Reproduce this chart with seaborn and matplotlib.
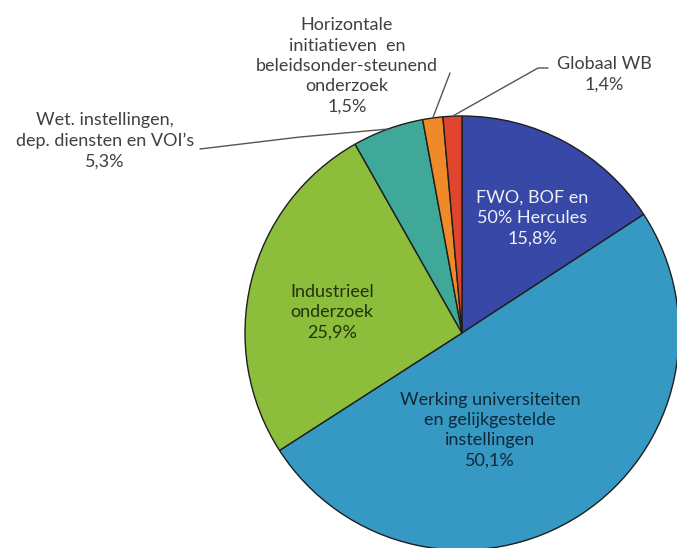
import numpy as np
import matplotlib
matplotlib.use("Agg")
import matplotlib.pyplot as plt
import seaborn as sns

# data
names = ["FWO, BOF en\n50% Hercules",
         "Werking universiteiten\nen gelijkgestelde\ninstellingen",
         "Industrieel\nonderzoek",
         "Wet. instellingen,\ndep. diensten en VOI’s",
         "Horizontale\ninitiatieven  en\nbeleidsonder-steunend\nonderzoek",
         "Globaal WB"]
shares = [15.8, 50.1, 25.9, 5.3, 1.5, 1.4]
colors = ["#3748a6", "#3599c3", "#8cbd3b", "#3fa898", "#ef8a28", "#e0452e"]

sns.set_theme(style="white")
plt.rcParams['font.family'] = ['Lato', 'DejaVu Sans']

W, H = 677, 548
fig = plt.figure(figsize=(6.77, 5.48), dpi=100)
ax = fig.add_axes([0, 0, 1, 1])

cx, cy, r = 462, H - 333, 217
wedges, _ = ax.pie(shares, colors=colors, startangle=90, counterclock=False,
                   center=(cx, cy), radius=r, frame=True,
                   wedgeprops=dict(edgecolor="#1e1e1e", linewidth=1.0))
ax.set_xlim(0, W)
ax.set_ylim(0, H)
ax.set_aspect("equal")
ax.axis("off")


def pct(v):
    return f"{v:.1f}".replace(".", ",") + "%"


def mid_point(i, rr=r):
    w = wedges[i]
    a = np.deg2rad((w.theta1 + w.theta2) / 2)
    return cx + rr * np.cos(a), cy + rr * np.sin(a)


# label placement in pixel coords (x, y from top)
spots = [(532, 218), (490, 430), (332, 312), (105, 141), (347, 66), (604, 74)]
tcolors = ["#eef0f8", "#10283a", "#23330a", "#404040", "#404040", "#404040"]

for i, (x, y) in enumerate(spots):
    ax.text(x, H - y, names[i] + "\n" + pct(shares[i]), ha="center", va="center",
            fontsize=13, color=tcolors[i], linespacing=1.33)

# leader lines
lc = "#555555"
ex, ey = mid_point(3)
ax.plot([200, 300, ex], [H - 149, H - 137, ey], color=lc, lw=1)
ex, ey = mid_point(4)
ax.plot([450, ex], [H - 73, ey], color=lc, lw=1)
ex, ey = mid_point(5)
ax.plot([548, 538, ex], [H - 68, H - 68, ey], color=lc, lw=1)

fig.savefig("out.png", dpi=100)
